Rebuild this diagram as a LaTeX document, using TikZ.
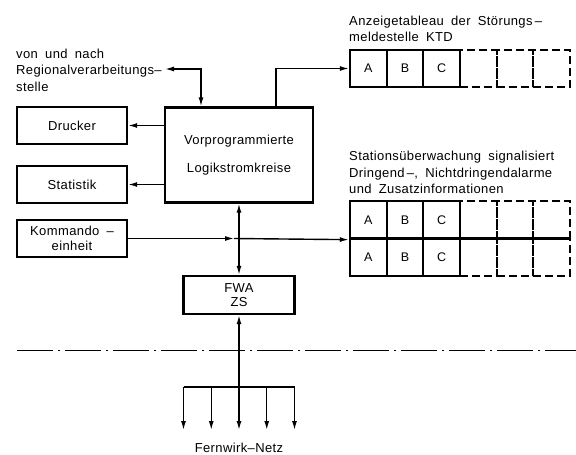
\documentclass[tikz,border=0pt]{standalone}
\usepackage{fontspec}
\setmainfont{Liberation Sans}[LetterSpace=3, WordSpace=1.8]
\usetikzlibrary{arrows.meta,positioning}
\tikzset{
  box/.style={draw, line width=2.3pt, rectangle, inner sep=0pt, align=center, font=\fontsize{13}{15}\selectfont},
  cell/.style={draw, line width=2.3pt, rectangle, inner sep=0pt, minimum width=36.67pt, minimum height=37.5pt, font=\fontsize{12.5}{13}\selectfont},
  dcell/.style={cell, dash pattern=on 8pt off 4pt},
  conn/.style={line width=1.4pt},
  arr/.style={conn, -{Latex[length=9pt,width=5pt]}},
  arrb/.style={conn, {Latex[length=9pt,width=5pt]}-{Latex[length=9pt,width=5pt]}},
  lbl/.style={align=left, inner sep=0pt, font=\fontsize{13}{16.5}\selectfont},
}
\begin{document}
\begin{tikzpicture}[x=1pt,y=-1pt]
\useasboundingbox (0,0) rectangle (576,455);
% boxes
\node[box, minimum width=110pt, minimum height=37pt] (drucker) at (72,125.5) {Drucker};
\node[box, minimum width=110pt, minimum height=37pt] (statistik) at (72,184.5) {Statistik};
\node[box, minimum width=110pt, minimum height=37pt] (kommando) at (72,238.5) {Kommando –\\einheit};
\node[box, minimum width=148pt, minimum height=95pt, font=\fontsize{13}{28}\selectfont] (logik) at (239,155) {Vorprogrammierte\\Logikstromkreise};
\node[box, minimum width=111pt, minimum height=38pt, font=\fontsize{13}{13.5}\selectfont] (fwa) at (239,295) {FWA\\ZS};
% Anzeigetableau cells
\node[cell] (tA) at (368.33,68.5) {A};
\node[cell] (tB) at (405,68.5) {B};
\node[cell] (tC) at (441.67,68.5) {C};
\node[dcell] (tD) at (478.33,68.5) {};
\node[dcell] (tE) at (515,68.5) {};
\node[dcell] (tF) at (551.67,68.5) {};
% Station cells
\node[cell] (sA1) at (368.33,219.75) {A};
\node[cell] (sB1) at (405,219.75) {B};
\node[cell] (sC1) at (441.67,219.75) {C};
\node[dcell] (sD1) at (478.33,219.75) {};
\node[dcell] (sE1) at (515,219.75) {};
\node[dcell] (sF1) at (551.67,219.75) {};
\node[cell] (sA2) at (368.33,257.25) {A};
\node[cell] (sB2) at (405,257.25) {B};
\node[cell] (sC2) at (441.67,257.25) {C};
\node[dcell] (sD2) at (478.33,257.25) {};
\node[dcell] (sE2) at (515,257.25) {};
\node[dcell] (sF2) at (551.67,257.25) {};
% labels
\node[lbl, anchor=west] (reglbl) at (16,70) {von und nach\\Regionalverarbeitungs–\\stelle};
\node[lbl, anchor=south west] (anzlbl) at (349,42) {Anzeigetableau der Störungs\,–\\meldestelle KTD};
\node[lbl, anchor=south west] (stlbl) at (349,194) {Stationsüberwachung signalisiert\\Dringend\,–, Nichtdringendalarme\\und Zusatzinformationen};
\node[lbl] (netz) at (239,448) {Fernwirk–Netz};
% connectors
\coordinate (reg) at (165,69);
\draw[arrb] (reg) -| ([xshift=-38pt]logik.north);
\draw[arr] ([xshift=37pt]logik.north) |- (tA.west);
\draw[arr] (logik.west |- drucker) -- (drucker.east);
\draw[arr] (logik.west |- statistik) -- (statistik.east);
\coordinate (kx) at (234,238.5);
\draw[arr] (kommando.east) -- (kx);
\draw[arr] (kx) -- (sA1.south west);
\draw[arrb] (logik.south) -- (fwa.north);
% network
\coordinate (n1) at (183.5,430);
\coordinate (n2) at (211.25,430);
\coordinate (n3) at (239,430);
\coordinate (n4) at (266.75,430);
\coordinate (n5) at (294.5,430);
\coordinate (b1) at (183.5,387);
\coordinate (b2) at (211.25,387);
\coordinate (b4) at (266.75,387);
\coordinate (b5) at (294.5,387);
\draw[arrb] (fwa.south) -- (n3);
\draw[conn] (b1) -- (b5);
\draw[arr] (b1) -- (n1);
\draw[arr] (b2) -- (n2);
\draw[arr] (b4) -- (n4);
\draw[arr] (b5) -- (n5);
% dash-dot separator
\coordinate (sepL) at (17,350);
\coordinate (sepR) at (576,350);
\draw[line width=1pt, dash pattern=on 36pt off 5pt on 2pt off 5pt] (sepL) -- (sepR);
\end{tikzpicture}
\end{document}
